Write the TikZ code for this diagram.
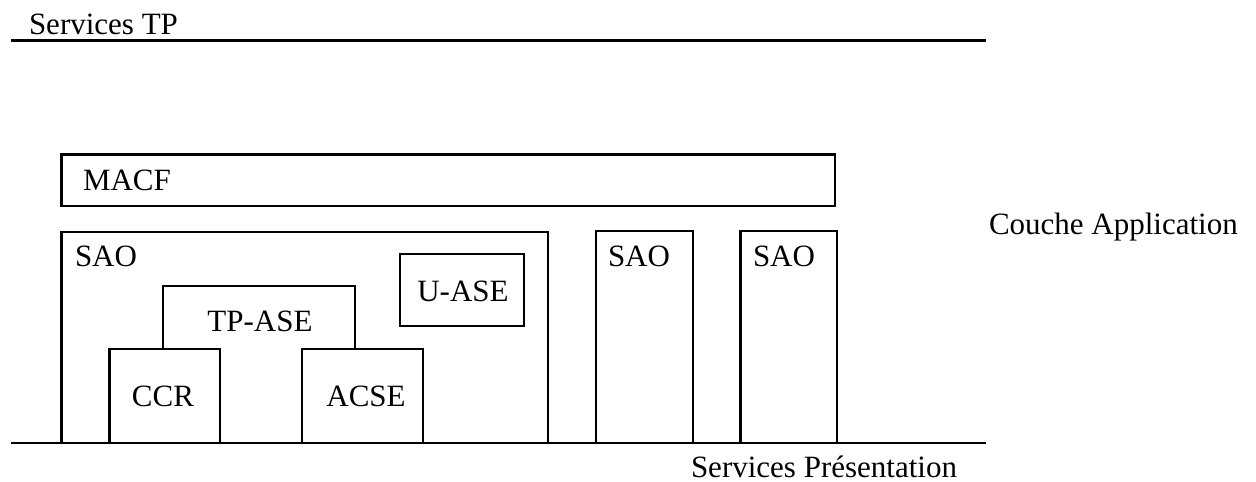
\documentclass[tikz,border=0pt]{standalone}
\usepackage{fontspec}
\setmainfont{Liberation Serif}
\begin{document}
\begin{tikzpicture}[x=1pt,y=-1pt, line width=2.6pt, line join=miter,
  lbl/.style={inner sep=0pt, outer sep=0pt, font=\fontsize{31}{37}\selectfont, anchor=base west},
  clbl/.style={lbl, anchor=base}]
\useasboundingbox (0,0) rectangle (1256,482);
% service lines
\draw (11,40.5) -- (986,40.5);
\draw (11,443) -- (986,443);
\node[lbl] (stp) at (29,34) {Services TP};
\node[lbl] (spres) at (691,477) {Services Présentation};
\node[lbl] (couche) at (989,234) {Couche Application};
% MACF
\draw (61.5,154.5) rectangle (835,206);
\node[lbl] (macf) at (83,190) {MACF};
% big SAO
\draw (61.5,443) -- (61.5,232) -- (548,232) -- (548,443);
\node[lbl] (sao1) at (75,266) {SAO};
% U-ASE
\draw (400,254) rectangle (524,326);
\node[clbl] (uase) at (463,301) {U-ASE};
% TP-ASE
\draw (163,349) -- (163,286) -- (355,286) -- (355,349);
\node[clbl] (tpase) at (260,331) {TP-ASE};
% CCR
\draw (109.5,443) -- (109.5,349) -- (220,349) -- (220,443);
\node[clbl] (ccr) at (163,406) {CCR};
% ACSE
\draw (302,443) -- (302,349) -- (423,349) -- (423,443);
\node[clbl] (acse) at (366,406) {ACSE};
% SAO 2 and 3
\draw (596,443) -- (596,231) -- (693,231) -- (693,443);
\node[lbl] (sao2) at (608,266) {SAO};
\draw (740.5,443) -- (740.5,231) -- (837,231) -- (837,443);
\node[lbl] (sao3) at (753,266) {SAO};
\end{tikzpicture}
\end{document}
